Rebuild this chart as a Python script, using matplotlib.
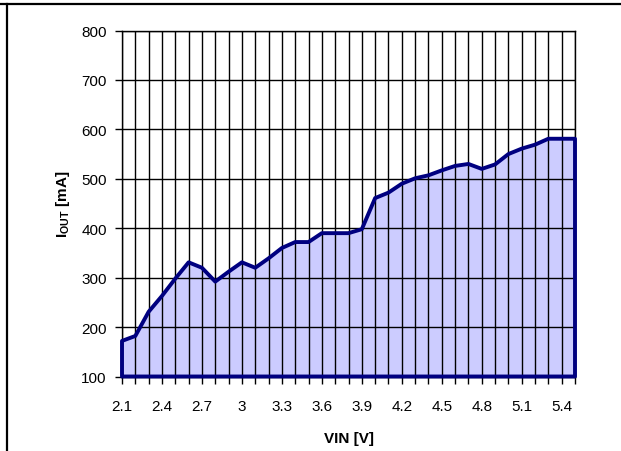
import numpy as np
import matplotlib.pyplot as plt
from matplotlib.lines import Line2D

plt.rcParams['font.family'] = ['Liberation Sans', 'DejaVu Sans']
plt.rcParams['mathtext.fontset'] = 'custom'
plt.rcParams['mathtext.rm'] = 'Liberation Sans:weight=bold'
plt.rcParams['mathtext.bf'] = 'Liberation Sans:weight=bold'

# input voltage steps and measured output current
vin = [2.1, 2.2, 2.3, 2.4, 2.5, 2.6, 2.7, 2.8, 2.9, 3.0,
       3.1, 3.2, 3.3, 3.4, 3.5, 3.6, 3.7, 3.8, 3.9, 4.0,
       4.1, 4.2, 4.3, 4.4, 4.5, 4.6, 4.7, 4.8, 4.9, 5.0,
       5.1, 5.2, 5.3, 5.4, 5.5]
iout = [172, 182, 231, 263, 298, 331, 320, 292, 312, 331,
        320, 339, 360, 372, 372, 390, 390, 390, 398, 461,
        472, 490, 501, 507, 517, 526, 530, 520, 529, 550,
        561, 569, 581, 581, 581]
yticks = [100, 200, 300, 400, 500, 600, 700, 800]

fig = plt.figure(figsize=(6.21, 4.52), dpi=100)
ax = fig.add_axes([122 / 621, 1 - 377.5 / 452, (575 - 122) / 621, (377.5 - 31.5) / 452])

# fill below, outline on top of the grid
ax.fill_between(vin, 100, iout, facecolor='#ccccff', edgecolor='none', zorder=1)
ax.fill_between(vin, 100, iout, facecolor='none', edgecolor='#000080',
                linewidth=2.8, zorder=3, clip_on=False)

ax.set_xlim(vin[0], vin[-1])
ax.set_ylim(100, 800)

labels = []
for i, v in enumerate(vin):
    if i % 3 == 0:
        labels.append('%g' % v)
    else:
        labels.append('')
ax.set_xticks(vin)
ax.set_xticklabels(labels)
ax.set_yticks(yticks)
ax.tick_params(axis='both', direction='out', length=5, width=1, color='black',
               labelsize=11)
ax.tick_params(axis='x', pad=11)
ax.tick_params(axis='y', pad=6)

ax.grid(True, color='black', linewidth=1)
for s in ax.spines.values():
    s.set_color('black')
    s.set_linewidth(1)

ax.set_xlabel('VIN [V]', fontsize=11, fontweight='bold', labelpad=13)
ax.set_ylabel(r'$\mathbf{I_{OUT}}$ [mA]', fontsize=11, fontweight='bold', labelpad=7)

# page frame lines
fig.add_artist(Line2D([0, 1], [1 - 5 / 452, 1 - 5 / 452], color='black', linewidth=1.6))
fig.add_artist(Line2D([7 / 621, 7 / 621], [0, 1 - 5 / 452], color='black', linewidth=1.6))

plt.savefig('out.png', dpi=100)
